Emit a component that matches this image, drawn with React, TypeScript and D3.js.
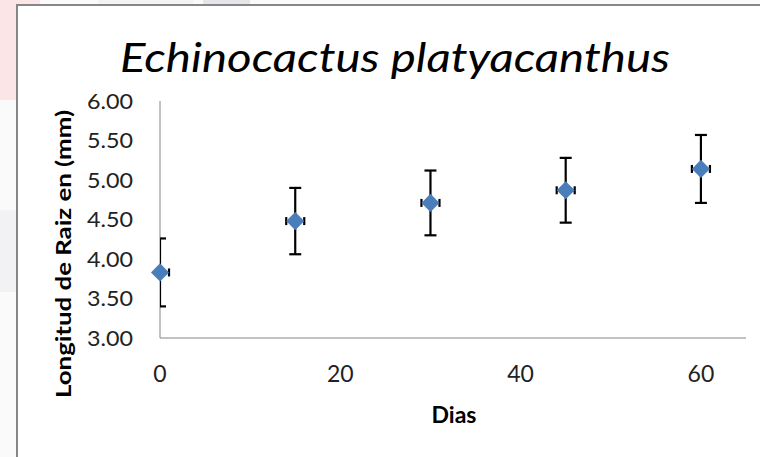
import React from "react";
import * as d3 from "d3";

// Root length (mm) by day, with error bars
const days = [0, 15, 30, 45, 60];
const rootLength = [3.83, 4.48, 4.71, 4.87, 5.14];
const yError = [0.43, 0.42, 0.41, 0.41, 0.43];
const xError = [1, 1, 1, 1, 1];

const yTicks = [3, 3.5, 4, 4.5, 5, 5.5, 6];
const xTicks = [0, 20, 40, 60];

const title = "Echinocactus  platyacanthus";
const yTitle = "Longitud de Raiz en (mm)";
const xTitle = "Dias";

const W = 760;
const H = 457;
const plot = { left: 160, right: 746, top: 101, bottom: 338 };
const FONT = "Lato, 'Open Sans', sans-serif";

export default function App() {
  const x = d3.scaleLinear().domain([0, 65]).range([plot.left, plot.right]);
  const y = d3.scaleLinear().domain([3, 6]).range([plot.bottom, plot.top]);
  const diamond = d3.symbol().type(d3.symbolDiamond2).size(210)();

  return (
    <svg
      width={W}
      height={H}
      style={{ position: "absolute", left: 0, top: 0, background: "#fff" }}
    >
      <defs>
        <clipPath id="plotClip">
          <rect
            x={plot.left}
            y={plot.top - 20}
            width={plot.right - plot.left + 20}
            height={plot.bottom - plot.top + 20}
          />
        </clipPath>
      </defs>

      {/* page backdrop around the chart frame */}
      <rect x={0} y={0} width={W} height={H} fill="#fafafb" />
      <rect x={0} y={0} width={40} height={100} fill="#fbe5e6" />
      <rect x={0} y={210} width={40} height={82} fill="#f2f2f5" />
      <rect x={98} y={0} width={95} height={8} fill="#f3f3f5" />
      <rect x={203} y={0} width={47} height={8} fill="#e6e6ea" />

      {/* chart frame */}
      <rect
        x={17}
        y={5}
        width={W}
        height={H}
        fill="#fff"
        stroke="#868686"
        strokeWidth={2}
      />

      {/* title */}
      <text
        x={395}
        y={72}
        textAnchor="middle"
        fontFamily={FONT}
        fontStyle="italic"
        fontSize={40}
        textLength={550}
        lengthAdjust="spacingAndGlyphs"
        fill="#000"
      >
        {title}
      </text>

      {/* axes */}
      <line
        x1={plot.left}
        x2={plot.left}
        y1={y(6)}
        y2={y(3)}
        stroke="#868686"
        strokeWidth={1}
      />
      <line
        x1={plot.left}
        x2={plot.right}
        y1={y(3)}
        y2={y(3)}
        stroke="#868686"
        strokeWidth={1}
      />

      {yTicks.map((t) => (
        <text
          key={`y${t}`}
          x={87}
          y={y(t)}
          dy="0.36em"
          fontFamily={FONT}
          fontSize={21.5}
          textLength={46}
          lengthAdjust="spacingAndGlyphs"
          fill="#222"
        >
          {d3.format(".2f")(t)}
        </text>
      ))}
      {xTicks.map((t) => (
        <text
          key={`x${t}`}
          x={x(t)}
          y={382}
          textAnchor="middle"
          fontFamily={FONT}
          fontSize={23}
          fill="#222"
        >
          {t}
        </text>
      ))}

      {/* axis titles */}
      <text
        transform={`translate(71, ${254}) rotate(-90)`}
        x={-144}
        y={0}
        fontFamily={FONT}
        fontWeight="bold"
        fontSize={20.5}
        textLength={288}
        lengthAdjust="spacingAndGlyphs"
        fill="#000"
      >
        {yTitle}
      </text>
      <text
        x={454}
        y={423}
        textAnchor="middle"
        fontFamily={FONT}
        fontWeight="bold"
        fontSize={23}
        fill="#000"
      >
        {xTitle}
      </text>

      {/* error bars */}
      <g clipPath="url(#plotClip)">
        {days.map((d, i) => {
          const cx = x(d);
          const cy = y(rootLength[i]);
          const top = y(rootLength[i] + yError[i]);
          const bot = y(rootLength[i] - yError[i]);
          const xl = x(d - xError[i]);
          const xr = x(d + xError[i]);
          return (
            <g key={`e${d}`} stroke="#000" strokeWidth={2.2}>
              <line x1={cx} x2={cx} y1={top} y2={bot} />
              <line x1={cx - 6} x2={cx + 6} y1={top} y2={top} />
              <line x1={cx - 6} x2={cx + 6} y1={bot} y2={bot} />
              <line x1={xl} x2={xr} y1={cy} y2={cy} />
              <line x1={xl} x2={xl} y1={cy - 4} y2={cy + 4} />
              <line x1={xr} x2={xr} y1={cy - 4} y2={cy + 4} />
            </g>
          );
        })}
      </g>

      {/* markers */}
      {days.map((d, i) => (
        <path
          key={`m${d}`}
          d={diamond}
          transform={`translate(${x(d)}, ${y(rootLength[i])})`}
          fill="#4a7ebb"
        />
      ))}
    </svg>
  );
}
